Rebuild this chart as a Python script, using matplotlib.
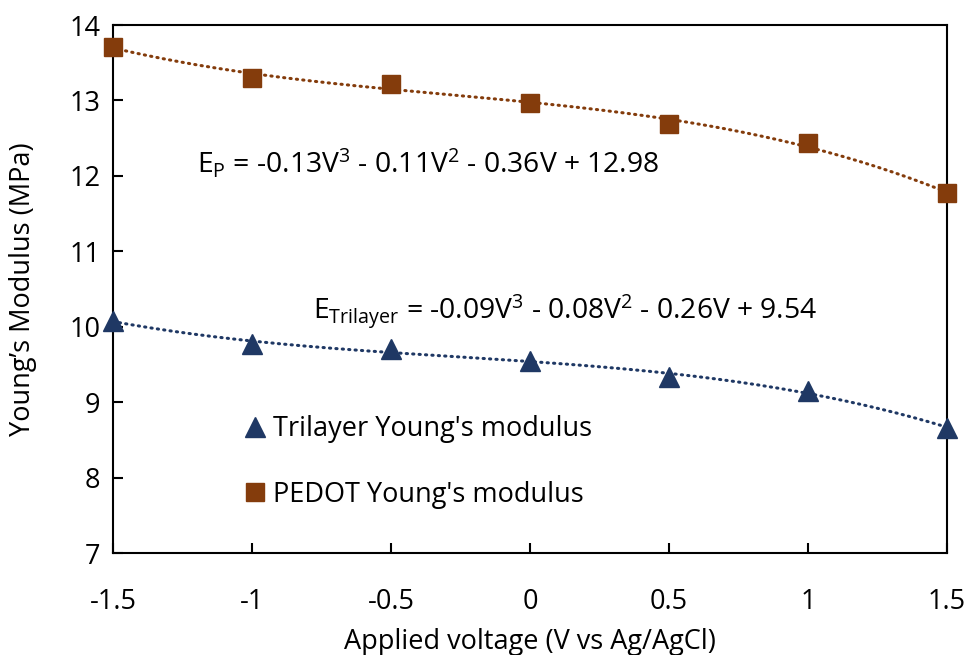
import numpy as np
import matplotlib
matplotlib.use("Agg")
import matplotlib.pyplot as plt

voltage = [-1.5, -1.0, -0.5, 0.0, 0.5, 1.0, 1.5]
pedot = [13.71, 13.30, 13.22, 12.97, 12.69, 12.43, 11.77]
trilayer = [10.08, 9.77, 9.70, 9.55, 9.33, 9.15, 8.66]
xtick_labels = ["-1.5", "-1", "-0.5", "0", "0.5", "1", "1.5"]
ytick_vals = [7, 8, 9, 10, 11, 12, 13, 14]

FONT = "Open Sans"
plt.rcParams["font.family"] = [FONT, "DejaVu Sans"]
plt.rcParams["axes.unicode_minus"] = False
plt.rcParams["mathtext.fontset"] = "custom"
plt.rcParams["mathtext.rm"] = FONT
plt.rcParams["mathtext.it"] = FONT
plt.rcParams["mathtext.bf"] = FONT

c_ped = "#843C0C"
c_tri = "#1F3864"
FS = 19.5
FS_EQ = 20.3

fig = plt.figure(figsize=(9.71, 6.55), dpi=100)
ax = fig.add_axes([113/971, 1-553/655, (947-113)/971, (553-25)/655])

# polynomial trendlines (cubic fit, as in the spreadsheet)
xx = np.linspace(-1.5, 1.5, 200)
for ys, c in ((pedot, c_ped), (trilayer, c_tri)):
    p = np.polyfit(voltage, ys, 3)
    ax.plot(xx, np.polyval(p, xx), color=c, lw=2.2, linestyle=(0, (0.4, 1.7)),
            dash_capstyle="round", zorder=2)

ax.plot(voltage, trilayer, linestyle="none", marker="^", ms=14, color=c_tri,
        label="Trilayer Young's modulus", zorder=3, clip_on=False)
ax.plot(voltage, pedot, linestyle="none", marker="s", ms=13, color=c_ped,
        label="PEDOT Young's modulus", zorder=3, clip_on=False)

ax.set_xlim(-1.5, 1.5)
ax.set_ylim(7, 14)
ax.set_xticks(voltage)
ax.set_xticklabels(xtick_labels)
ax.set_yticks(ytick_vals)
ax.tick_params(direction="in", length=7, width=1.5, labelsize=FS, colors="black")
ax.tick_params(axis="x", pad=25)
ax.tick_params(axis="y", pad=9)
for s in ax.spines.values():
    s.set_linewidth(1.5)

ax.set_xlabel("Applied voltage (V vs Ag/AgCl)", fontsize=FS, labelpad=9)
ax.set_ylabel("Young\u2019s Modulus (MPa)", fontsize=FS, labelpad=23)

ax.text(-1.198, 12.17,
        r"E$_\mathregular{P}$ = -0.13V$^\mathregular{3}$ - 0.11V$^\mathregular{2}$ - 0.36V + 12.98",
        fontsize=FS_EQ, va="center", ha="left")
ax.text(-0.781, 10.19,
        r"E$_\mathregular{Trilayer}$ = -0.09V$^\mathregular{3}$ - 0.08V$^\mathregular{2}$ - 0.26V + 9.54",
        fontsize=FS_EQ, va="center", ha="left")

ax.legend(loc="upper left", bbox_to_anchor=(0.14, 0.281), frameon=False, fontsize=FS,
          handletextpad=0.1, handlelength=1.1, labelspacing=1.37, borderaxespad=0)

fig.savefig("out.png", dpi=100)
